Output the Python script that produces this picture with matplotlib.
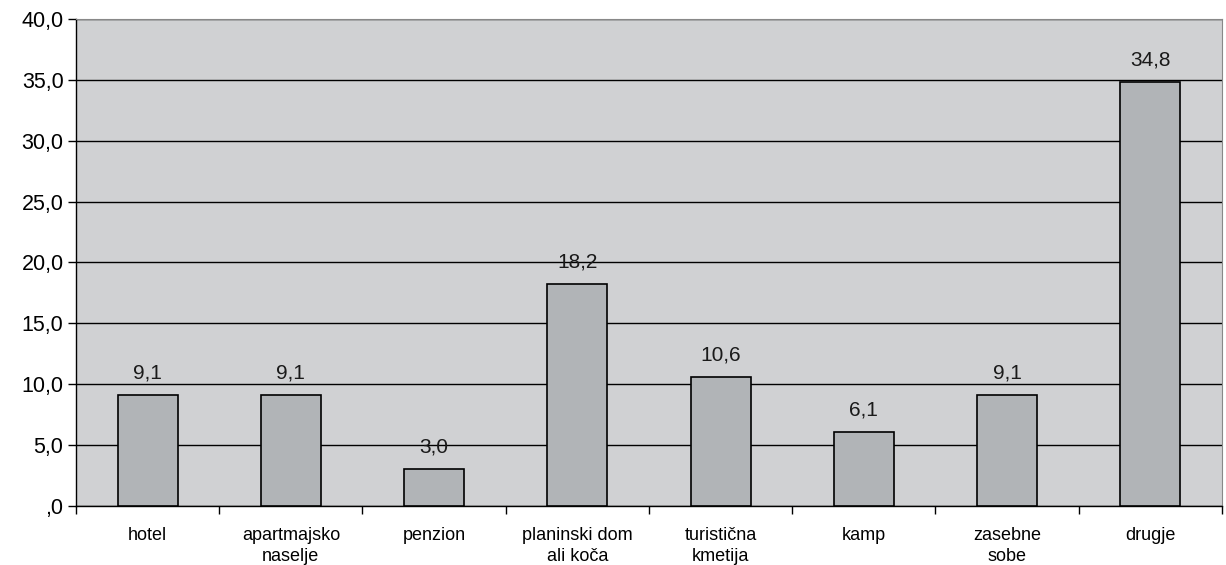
import matplotlib
matplotlib.use("Agg")
import matplotlib.pyplot as plt
import numpy as np

plt.rcParams['font.family'] = ['Liberation Sans', 'DejaVu Sans']

# Accommodation types and shares (%)
categories = ["hotel", "apartmajsko\nnaselje", "penzion", "planinski dom\nali koča",
              "turistična\nkmetija", "kamp", "zasebne\nsobe", "drugje"]
values = [9.1, 9.1, 3.0, 18.2, 10.6, 6.1, 9.1, 34.8]
yticks = [0, 5, 10, 15, 20, 25, 30, 35, 40]


def fmt(v):
    s = f"{v:.1f}".replace(".", ",")
    return s[1:] if s.startswith("0,") else s


fig = plt.figure(figsize=(12.26, 5.65), dpi=100)
ax = fig.add_axes([0.062, 0.1044, 0.9347, 0.862])
ax.set_facecolor("#d0d1d3")

x = np.arange(len(categories))
ax.bar(x, values, width=0.42, color="#b1b4b7", edgecolor="black", linewidth=1.2, zorder=3)

for xi, v in zip(x, values):
    ax.annotate(fmt(v), (xi, v), xytext=(0, 9), textcoords="offset points",
                ha="center", va="bottom", fontsize=15, color="#1a1a1a")

ax.set_xlim(-0.5, len(categories) - 0.5)
ax.set_ylim(0, 40)
ax.set_yticks(yticks)
ax.set_yticklabels([fmt(t) for t in yticks], fontsize=15.5)
ax.yaxis.grid(True, color="black", linewidth=1.0, zorder=1)
ax.set_axisbelow(True)

# category labels centred, ticks on category boundaries
ax.set_xticks(x)
ax.set_xticklabels(categories, fontsize=13, linespacing=1.3)
ax.tick_params(axis="x", length=0, pad=15)
ax.set_xticks(np.arange(len(categories) + 1) - 0.5, minor=True)
ax.tick_params(axis="x", which="minor", length=6, width=1, color="black")
ax.tick_params(axis="y", length=6, width=1, color="black", pad=3)

for side in ["top", "right"]:
    ax.spines[side].set_color("#888888")
for side in ["left", "bottom"]:
    ax.spines[side].set_color("black")
    ax.spines[side].set_linewidth(1.0)

fig.savefig("out.png", dpi=100)
